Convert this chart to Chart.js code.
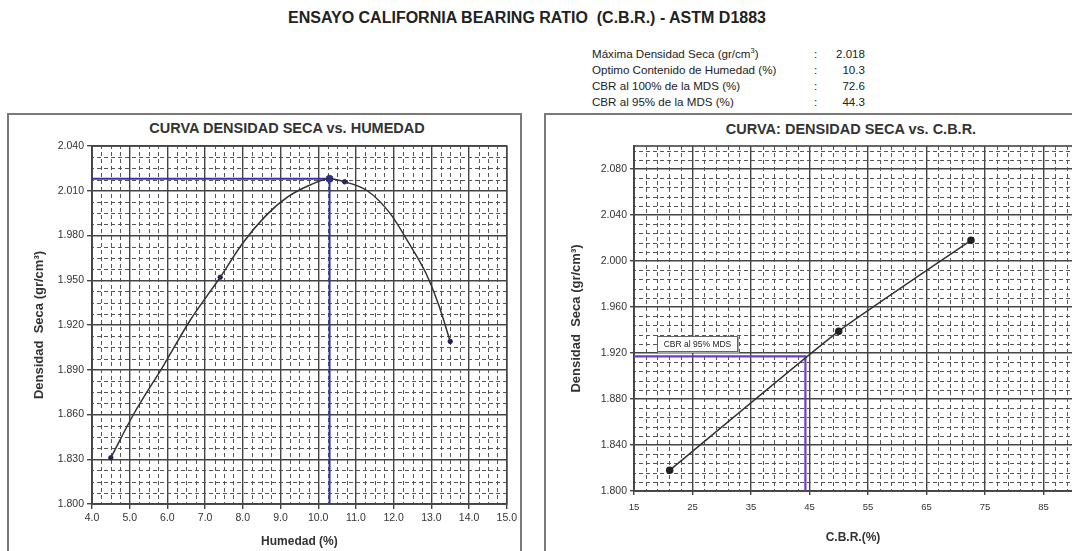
<!DOCTYPE html>
<html><head><meta charset="utf-8">
<script src="https://cdn.jsdelivr.net/npm/chart.js@4.4.1/dist/chart.umd.min.js"></script>
<style>
html,body{margin:0;padding:0;background:#fff;width:1072px;height:551px;overflow:hidden;font-family:"Liberation Sans",Arial,sans-serif;color:#222}
#title{position:absolute;left:0;width:1054px;top:9px;text-align:center;font-weight:bold;font-size:16px;color:#222}
.info{position:absolute;font-size:11.6px;line-height:13px;color:#222;white-space:nowrap}
.info sup{font-size:7.5px;line-height:0}
.frame{position:absolute;border:2px solid #7a7a7a;background:#fff}
.ctitle{position:absolute;font-weight:bold;font-size:14.5px;color:#333;white-space:nowrap;transform:translateX(-50%)}
.cw{position:absolute}
.xt{position:absolute;font-weight:bold;font-size:12px;color:#333;white-space:nowrap;transform:translateX(-50%)}
#lbl95{position:absolute;left:657px;top:336px;width:79px;height:14px;border:1px solid #666;box-shadow:1px 1px 0 #aaa;background:#fff;font-size:8.5px;line-height:14px;text-align:center;color:#222}
</style></head>
<body>
<div id="title">ENSAYO CALIFORNIA BEARING RATIO &nbsp;(C.B.R.) - ASTM D1883</div>
<div id="infoBox"></div>
<div class="frame" style="left:7px;top:113px;width:511px;height:470px"></div>
<div class="frame" style="left:544px;top:113px;width:620px;height:470px"></div>
<div class="ctitle" style="left:287px;top:120px">CURVA DENSIDAD SECA vs. HUMEDAD</div>
<div class="ctitle" style="left:851px;top:121px">CURVA: DENSIDAD SECA vs. C.B.R.</div>
<div class="cw" style="left:10px;top:115px;width:510px;height:436px"><canvas id="c1"></canvas></div>
<div class="cw" style="left:547px;top:115px;width:600px;height:436px"><canvas id="c2"></canvas></div>
<div class="xt" style="left:853px;top:530px">C.B.R.(%)</div>
<div id="lbl95">CBR al 95% MDS</div>
<script>
// ---- Summary values ----
const mds = 2.018;          // Máxima Densidad Seca
const optHum = 10.3;        // Optimo Contenido de Humedad
const cbr100 = 72.6;        // CBR al 100% MDS
const cbr95 = 44.3;         // CBR al 95% MDS
const dens95 = 1.917;       // 95% de la MDS
const infoLabels = ['Máxima Densidad Seca (gr/cm<sup>3</sup>)', 'Optimo Contenido de Humedad (%)', 'CBR al 100% de la MDS (%)', 'CBR al 95% de la MDS (%)'];
const infoValues = ['2.018', '10.3', '72.6', '44.3'];

// ---- Left chart: densidad seca vs humedad ----
const humedad = [4.5, 7.4, 10.7, 13.5];
const densidadSeca = [1.831, 1.952, 2.016, 1.909];
// fitted curve as drawn in the picture
const curvaHumedad = [4.5, 5.1, 5.9, 6.6, 7.4, 8.0, 8.6, 9.2, 9.8, 10.3, 10.7, 11.3, 11.9, 12.4, 12.85, 13.2, 13.5];
const curvaDensidad = [1.831, 1.860, 1.893, 1.923, 1.952, 1.975, 1.993, 2.006, 2.014, 2.018, 2.016, 2.010, 1.995, 1.975, 1.955, 1.933, 1.909];
const xTicksHum = [4, 5, 6, 7, 8, 9, 10, 11, 12, 13, 14, 15];
const yTicksHum = [1.80, 1.83, 1.86, 1.89, 1.92, 1.95, 1.98, 2.01, 2.04];

// ---- Right chart: densidad seca vs CBR ----
const cbr = [21.1, 50.0, 72.6];
const densidadCbr = [1.818, 1.939, 2.018];
const xTicksCbr = [15, 25, 35, 45, 55, 65, 75, 85, 95];
const yTicksCbr = [1.80, 1.84, 1.88, 1.92, 1.96, 2.00, 2.04, 2.08];

// info block
const ib = document.getElementById('infoBox');
infoLabels.forEach((t, i) => {
  const top = 47 + i * 16;
  ib.insertAdjacentHTML('beforeend',
    `<div class="info" style="left:592px;top:${top}px">${t}</div>` +
    `<div class="info" style="left:814px;top:${top}px">:</div>` +
    `<div class="info" style="left:800px;width:65px;text-align:right;top:${top}px">${infoValues[i]}</div>`);
});

const xy = (xs, ys) => xs.map((v, i) => ({x: v, y: ys[i]}));

const minorGrid = {
  id: 'minorGrid',
  beforeDatasetsDraw(chart, args, o) {
    const {ctx, chartArea: a, scales: {x, y}} = chart;
    ctx.save();
    ctx.beginPath(); ctx.rect(a.left, a.top, a.right - a.left, a.bottom - a.top); ctx.clip();
    ctx.strokeStyle = o.color; ctx.lineWidth = 1; ctx.setLineDash(o.dash);
    ctx.lineDashOffset = o.dashOffset;
    const nx = Math.round((x.max - x.min) / o.xStep);
    for (let n = 0; n <= nx; n++) {
      if (n % o.xPer === 0) continue;
      const px = Math.round(x.getPixelForValue(x.min + n * o.xStep)) + 0.5;
      ctx.beginPath(); ctx.moveTo(px, a.bottom); ctx.lineTo(px, a.top); ctx.stroke();
    }
    const ny = Math.round((y.max - y.min) / o.yStep);
    for (let n = 0; n <= ny; n++) {
      if (n % o.yPer === 0) continue;
      const py = Math.round(y.getPixelForValue(y.min + n * o.yStep)) + 0.5;
      ctx.beginPath(); ctx.moveTo(a.left, py); ctx.lineTo(a.right, py); ctx.stroke();
    }
    ctx.restore();
    ctx.save();
    ctx.strokeStyle = '#444'; ctx.lineWidth = 1.6;
    ctx.strokeRect(a.left, a.top, a.right - a.left, a.bottom - a.top);
    ctx.restore();
  }
};
Chart.register(minorGrid);

const tickFont = {family: 'Liberation Sans', size: 10.5};
function axis(ticksArr, digits, opts) {
  return Object.assign({
    type: 'linear',
    min: ticksArr[0],
    afterBuildTicks: s => { s.ticks = ticksArr.map(v => ({value: v})); },
    grid: {color: '#444', lineWidth: 1.4, tickLength: 5, tickColor: '#444'},
    border: {color: '#444', width: 1.6},
    ticks: {color: '#333', font: tickFont, padding: 3, autoSkip: false, maxRotation: 0,
            callback: v => Number(v).toFixed(digits)}
  }, opts);
}
const yTitleFont = {family: 'Liberation Sans', size: 13, weight: 'bold'};

new Chart(document.getElementById('c1'), {
  type: 'line',
  data: {datasets: [
    {data: xy(curvaHumedad, curvaDensidad), borderColor: '#333', borderWidth: 1.5, pointRadius: 0, cubicInterpolationMode: 'monotone', fill: false},
    {data: xy(humedad, densidadSeca), showLine: false, pointRadius: 2.2, pointBackgroundColor: '#1f1f55', pointBorderColor: '#1f1f55'},
    {data: [{x: xTicksHum[0], y: mds}, {x: optHum, y: mds}, {x: optHum, y: yTicksHum[0]}], borderColor: '#3535a8', borderWidth: 2, pointRadius: 0, tension: 0},
    {data: [{x: optHum, y: mds}], showLine: false, pointRadius: 3.5, pointBackgroundColor: '#2a2a96', pointBorderColor: '#2a2a96'}
  ]},
  options: {
    responsive: true, maintainAspectRatio: false, animation: false,
    layout: {padding: {top: 31, right: 13, left: 0, bottom: 0}},
    plugins: {legend: {display: false}, tooltip: {enabled: false},
      minorGrid: {color: '#555', dash: [4, 3], dashOffset: 2, xStep: 0.25, xPer: 4, yStep: 0.0075, yPer: 4}},
    scales: {
      x: axis(xTicksHum, 1, {max: xTicksHum[xTicksHum.length - 1], afterFit: s => { s.height = 47; },
        title: {display: true, text: 'Humedad (%)', color: '#333', font: {family: 'Liberation Sans', size: 12, weight: 'bold'}, padding: {top: 0, bottom: 2}}}),
      y: axis(yTicksHum, 3, {max: yTicksHum[yTicksHum.length - 1], afterFit: s => { s.width = 82; },
        title: {display: true, text: 'Densidad  Seca (gr/cm³)', color: '#333', font: yTitleFont, padding: {top: 22, bottom: 0}}})
    }
  }
});

new Chart(document.getElementById('c2'), {
  type: 'line',
  data: {datasets: [
    {data: xy(cbr, densidadCbr), borderColor: '#333', borderWidth: 1.5, pointRadius: 3, pointBackgroundColor: '#222', pointBorderColor: '#222', tension: 0.15, fill: false},
    {data: [{x: xTicksCbr[0], y: dens95}, {x: cbr95, y: dens95}, {x: cbr95, y: yTicksCbr[0]}], borderColor: '#6b3cc4', borderWidth: 2.2, pointRadius: 0, tension: 0}
  ]},
  options: {
    responsive: true, maintainAspectRatio: false, animation: false,
    layout: {padding: {top: 31, right: 45, left: 0, bottom: 0}},
    plugins: {legend: {display: false}, tooltip: {enabled: false},
      minorGrid: {color: '#555', dash: [4, 3], dashOffset: 2, xStep: 2, xPer: 5, yStep: 0.008, yPer: 5}},
    scales: {
      x: axis(xTicksCbr, 0, {max: xTicksCbr[xTicksCbr.length - 1], afterFit: s => { s.height = 60; },
        ticks: {color: '#333', font: {family: 'Liberation Sans', size: 9.5}, padding: 7, autoSkip: false, maxRotation: 0, callback: v => Number(v).toFixed(0)},
        grid: {color: '#444', lineWidth: 1.4, tickLength: 4, tickColor: '#444'}}),
      y: axis(yTicksCbr, 3, {max: 2.10, afterFit: s => { s.width = 87; },
        grid: {color: '#444', lineWidth: 1.4, tickLength: 4, tickColor: '#444'},
        title: {display: true, text: 'Densidad  Seca (gr/cm³)', color: '#333', font: yTitleFont, padding: {top: 22, bottom: 0}}})
    }
  }
});
</script>
</body></html>
